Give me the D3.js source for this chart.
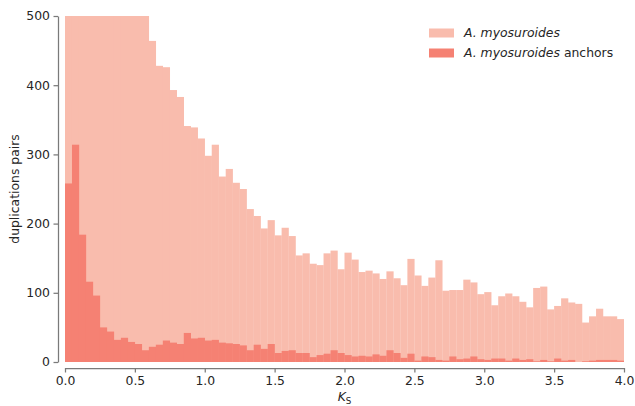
<!DOCTYPE html>
<html>
<head>
<meta charset="utf-8">
<script src="https://cdn.jsdelivr.net/npm/d3@7"></script>
<style>
  html, body { margin: 0; padding: 0; background: #fff; }
  svg { display: block; font-family: "DejaVu Sans", sans-serif; }
</style>
</head>
<body>
<svg id="chart" width="635" height="406"></svg>
<script>
// ---- data ----
const binWidth = 0.05;
// lower edges of the Ks bins (0.00 .. 3.95)
const binStarts = d3.range(80).map(i => +(i * binWidth).toFixed(2));
// all duplication pairs (first 12 bins exceed the 500 axis limit and are clipped)
const allPairs = [
  1150, 1020, 900, 820, 760, 700, 650, 610, 580, 555, 530, 510,
  464, 428, 426, 393, 383, 341, 339, 323,
  298, 314, 268, 279, 259, 250, 221, 211, 193, 205,
  183, 194, 182, 154, 157, 142, 140, 157, 161, 134,
  158, 148, 130, 132, 128, 120, 131, 121, 111, 149,
  125, 110, 122, 147, 103, 104, 104, 119, 115, 98,
  101, 82, 95, 99, 95, 87, 79, 107, 109, 76,
  81, 92, 86, 84, 57, 66, 77, 66, 66, 62
];
// anchor pairs
const anchorPairs = [
  258, 314, 184, 116, 96, 50, 44, 32, 35, 29,
  26, 17, 22, 25, 31, 28, 26, 42, 34, 35,
  31, 32, 28, 27, 26, 24, 17, 25, 19, 26,
  13, 16, 17, 13, 13, 7, 10, 12, 17, 13,
  10, 8, 9, 8, 11, 9, 17, 13, 6, 12,
  2, 8, 7, 3, 2, 8, 4, 5, 8, 4,
  3, 5, 5, 2, 5, 3, 4, 1, 3, 1,
  5, 2, 3, 0, 1, 2, 3, 3, 3, 2
];
const xTicks = [0, 0.5, 1.0, 1.5, 2.0, 2.5, 3.0, 3.5, 4.0];
const yTicks = [0, 100, 200, 300, 400, 500];
const seriesNames = ["A. myosuroides", "A. myosuroides anchors"];

// ---- drawing ----
const svg = d3.select("#chart");
const x = d3.scaleLinear().domain([0, 4]).range([65, 624]);
const y = d3.scaleLinear().domain([0, 500]).range([362, 16]);
const colors = ["#f9bcad", "#f58173"];
const textColor = "#262626";
const axisColor = "#7a7a7a";
const fs = "12.4px";

svg.append("defs").append("clipPath").attr("id", "plotclip")
  .append("rect")
  .attr("x", x(0)).attr("y", y(500))
  .attr("width", x(4) - x(0)).attr("height", y(0) - y(500));

const plot = svg.append("g").attr("clip-path", "url(#plotclip)");

function drawBars(values, color) {
  plot.append("g").selectAll("rect")
    .data(values.map((v, i) => ({ x0: binStarts[i], v })))
    .join("rect")
    .attr("x", d => x(d.x0))
    .attr("width", d => x(d.x0 + binWidth) - x(d.x0) + 0.2)
    .attr("y", d => y(d.v))
    .attr("height", d => y(0) - y(d.v))
    .attr("fill", color);
}
drawBars(allPairs, colors[0]);
drawBars(anchorPairs, colors[1]);

// x axis
const xAxis = svg.append("g")
  .attr("transform", "translate(0,368)")
  .call(d3.axisBottom(x).tickValues(xTicks).tickFormat(d3.format(".1f"))
        .tickSize(4.5).tickSizeOuter(0).tickPadding(3.5));
// y axis
const yAxis = svg.append("g")
  .attr("transform", "translate(58,0)")
  .call(d3.axisLeft(y).tickValues(yTicks).tickFormat(d3.format("d"))
        .tickSize(4.5).tickSizeOuter(0).tickPadding(3.5));

[xAxis, yAxis].forEach(g => {
  g.select(".domain").attr("stroke", axisColor).attr("stroke-width", 1.25);
  g.selectAll(".tick line").attr("stroke", axisColor).attr("stroke-width", 1.25);
  g.selectAll(".tick text").attr("fill", textColor)
    .style("font-family", "DejaVu Sans").style("font-size", fs);
});

// axis labels
const xl = svg.append("text")
  .attr("x", (x(0) + x(4)) / 2).attr("y", 401)
  .attr("text-anchor", "middle")
  .attr("fill", textColor)
  .style("font-size", fs);
xl.append("tspan").attr("font-style", "italic").text("K");
xl.append("tspan").attr("dy", 3).style("font-size", "8.7px").text("S");

svg.append("text")
  .attr("transform", `translate(19,${(y(0) + y(500)) / 2}) rotate(-90)`)
  .attr("text-anchor", "middle")
  .attr("fill", textColor)
  .style("font-size", fs)
  .text("duplications pairs");

// legend
const legend = svg.append("g");
seriesNames.forEach((name, i) => {
  const ly = 28.5 + i * 20;
  legend.append("rect")
    .attr("x", 429).attr("y", ly).attr("width", 25).attr("height", 9)
    .attr("fill", colors[i]);
  const t = legend.append("text")
    .attr("x", 464).attr("y", ly + 8.8)
    .attr("fill", textColor)
    .style("font-size", fs);
  t.append("tspan").attr("font-style", "italic").text("A. myosuroides");
  if (i === 1) t.append("tspan").text(" anchors");
});
</script>
</body>
</html>
